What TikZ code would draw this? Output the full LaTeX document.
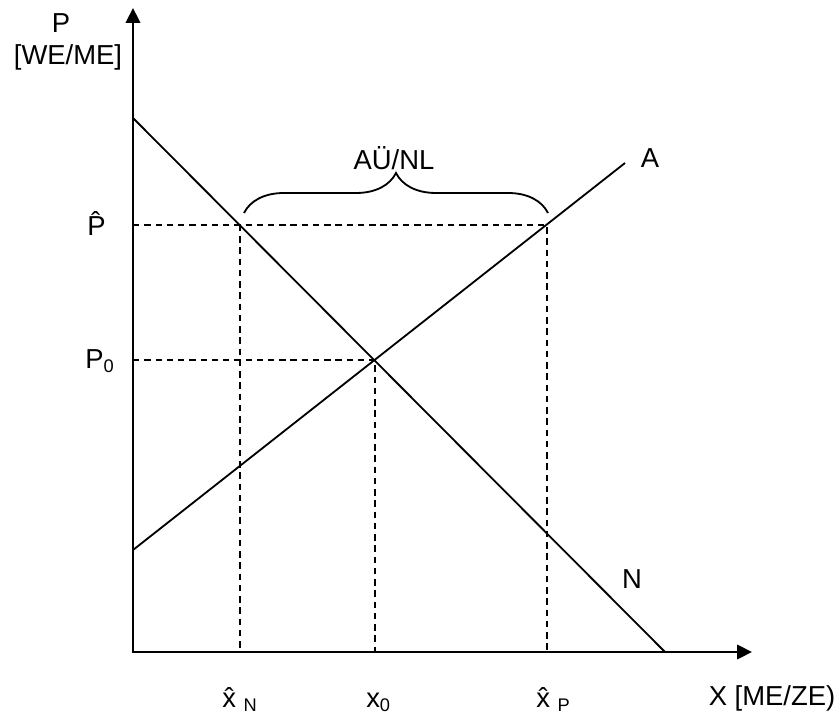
\documentclass[tikz,border=0pt]{standalone}
\usepackage{fontspec}
\setmainfont{Liberation Sans}
\usetikzlibrary{arrows.meta,decorations.pathreplacing}
\newcommand{\lowidx}[1]{\raisebox{-0.1cm}{\fontsize{13}{13}\selectfont #1}}

\begin{document}
\begin{tikzpicture}[x=0.025cm,y=-0.025cm,
  axisline/.style={line width=2pt,line join=miter,
    {Triangle[length=0.375cm,width=0.36cm]}-{Triangle[length=0.375cm,width=0.36cm]}},
  curveline/.style={line width=1.3pt},
  guideline/.style={line width=1.3pt,dash pattern=on 4.5pt off 3.5pt},
  bracket/.style={line width=1.3pt,decorate,decoration={brace,amplitude=1cm}},
  lbl/.style={font=\fontsize{19.5}{23}\selectfont,inner sep=0pt,anchor=base}]

  \useasboundingbox (0,0) rectangle (840,715);

  % ── POINTS ──────────────────────────────────────────────────────────────────
  \coordinate (origin) at (133,652);
  \coordinate (ytip)   at (133,8);
  \coordinate (xtip)   at (752,652);
  \coordinate (nstart) at (133,118);
  \coordinate (nend)   at (665,652);
  \coordinate (astart) at (133,550);
  \coordinate (aend)   at (625,163);
  \coordinate (eq)     at (375,360);
  \coordinate (hatn)   at (240,225);
  \coordinate (hata)   at (547,225);

  % ── AXES ────────────────────────────────────────────────────────────────────
  \draw[axisline] (ytip) -- (origin) -- (xtip);

  % ── GUIDE LINES ─────────────────────────────────────────────────────────────
  \draw[guideline] (origin |- hata) -- (hata) -- (hata |- origin);
  \draw[guideline] (hatn) -- (hatn |- origin);
  \draw[guideline] (origin |- eq) -- (eq) -- (eq |- origin);

  % ── DEMAND N AND SUPPLY A ───────────────────────────────────────────────────
  \draw[curveline] (nstart) -- (nend);
  \draw[curveline] (astart) -- (aend);

  % ── BRACE ───────────────────────────────────────────────────────────────────
  \draw[bracket] (244,213) -- (548,213);

  % ── LABELS ──────────────────────────────────────────────────────────────────
  \node[lbl] (ptitle) at (61,33) {P};
  \node[lbl] (punit)  at (68,65) {[WE/ME]};
  \node[lbl] (gap)    at (394,170) {AÜ/NL};
  \node[lbl] (alabel) at (650,168) {A};
  \node[lbl] (nlabel) at (632,588) {N};
  \node[lbl] (xunit)  at (772,705) {X [ME/ZE)};

  \node[lbl,anchor=base west] (phat) at (87,236) {\^{P}};
  \node[lbl,anchor=base west] (pzero) at (85,368) {P\lowidx{0}};
  \node[lbl,anchor=base west] (xhatn) at (222,707) {\^{x} \lowidx{N}};
  \node[lbl,anchor=base west] (xzero) at (366,707) {x\lowidx{0}};
  \node[lbl,anchor=base west] (xhatp) at (536,707) {\^{x} \lowidx{P}};

\end{tikzpicture}
\end{document}
